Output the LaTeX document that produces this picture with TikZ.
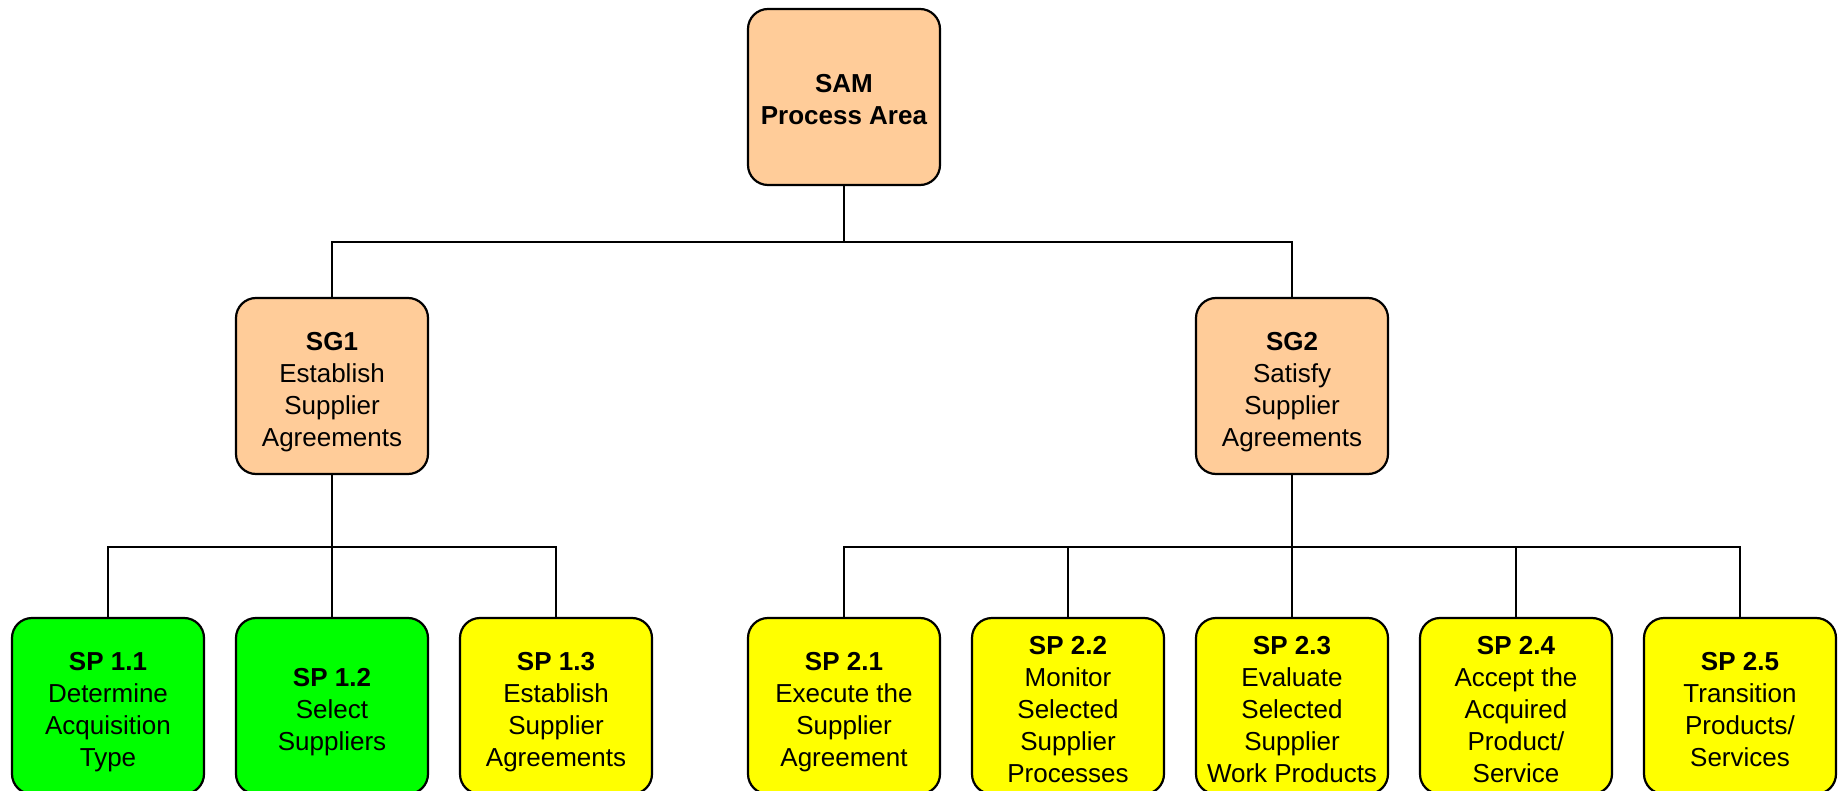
\documentclass[tikz,border=0pt]{standalone}
\usepackage{fontspec}
\setmainfont{Liberation Sans}
\definecolor{peach}{HTML}{FFCC99}
\definecolor{spgreen}{HTML}{00FF00}
\definecolor{spyellow}{HTML}{FFFF00}
% invisible rules fixing the ascent of the first line and the descent of the last
\newcommand{\topstrut}{\rule{0pt}{29.5pt}}
\newcommand{\botstrut}{\rule[-5.5pt]{0pt}{0pt}}
\begin{document}
\begin{tikzpicture}[x=1pt, y=-1pt,
  box/.style={draw=black, line width=2.2pt, rounded corners=20pt,
    minimum width=192pt, minimum height=176pt, inner sep=0pt,
    align=center, font=\fontsize{26}{32}\selectfont},
  goal/.style={box, fill=peach},
  donepr/.style={box, fill=spgreen},
  openpr/.style={box, fill=spyellow},
  link/.style={draw=black, line width=1.6pt}]
\useasboundingbox (0,0) rectangle (1839,791);
\fill[white] (0,0) rectangle (1839,791);
\clip (0,0) rectangle (1839,791);

% process area and its two specific goals
\node[goal] (sam) at (844,97) {\topstrut\textbf{SAM}\\\textbf{Process Area}\botstrut};
\node[goal] (sg1) at (332,386) {\topstrut\textbf{SG1}\\Establish\\Supplier\\Agreements\botstrut};
\node[goal] (sg2) at (1292,386) {\topstrut\textbf{SG2}\\Satisfy\\Supplier\\Agreements\botstrut};

% specific practices of SG1
\node[donepr] (sp11) at (108,706) {\topstrut\textbf{SP 1.1}\\Determine\\Acquisition\\Type\botstrut};
\node[donepr] (sp12) at (332,706) {\topstrut\textbf{SP 1.2}\\Select\\Suppliers\botstrut};
\node[openpr] (sp13) at (556,706) {\topstrut\textbf{SP 1.3}\\Establish\\Supplier\\Agreements\botstrut};

% specific practices of SG2
\node[openpr] (sp21) at (844,706) {\topstrut\textbf{SP 2.1}\\Execute the\\Supplier\\Agreement\botstrut};
\node[openpr] (sp22) at (1068,706) {\topstrut\textbf{SP 2.2}\\Monitor\\Selected\\Supplier\\Processes\botstrut};
\node[openpr] (sp23) at (1292,706) {\topstrut\textbf{SP 2.3}\\Evaluate\\Selected\\Supplier\\Work Products\botstrut};
\node[openpr] (sp24) at (1516,706) {\topstrut\textbf{SP 2.4}\\Accept the\\Acquired\\Product/\\Service\botstrut};
\node[openpr] (sp25) at (1740,706) {\topstrut\textbf{SP 2.5}\\Transition\\Products/\\Services\botstrut};

% tree connectors
\draw[link] (sam.south) -- ++(0,56) -| (sg1.north);
\draw[link] (sam.south) -- ++(0,56) -| (sg2.north);
\foreach \c in {sp11,sp12,sp13}
  \draw[link] (sg1.south) -- ++(0,72) -| (\c.north);
\foreach \c in {sp21,sp22,sp23,sp24,sp25}
  \draw[link] (sg2.south) -- ++(0,72) -| (\c.north);
\end{tikzpicture}
\end{document}
